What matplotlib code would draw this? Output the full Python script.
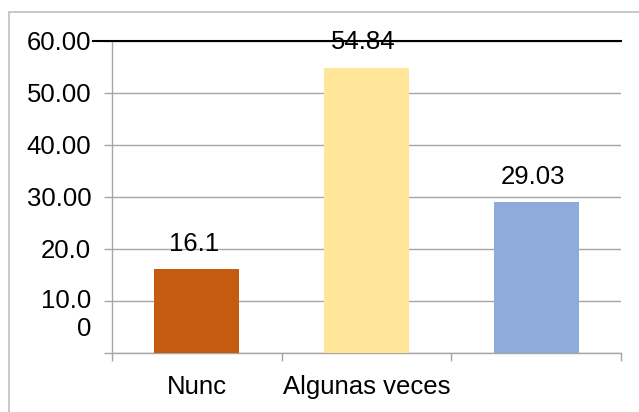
import matplotlib
matplotlib.use("Agg")
import matplotlib.pyplot as plt
from matplotlib.patches import Rectangle

plt.rcParams['font.family'] = ['Liberation Sans', 'DejaVu Sans']

categorias = ["Nunc", "Algunas veces", ""]
valores = [16.1, 54.84, 29.03]
etiquetas = ["16.1", "54.84", "29.03"]
colores = ["#C55A11", "#FFE699", "#8FAADC"]
yticks = [0, 10, 20, 30, 40, 50, 60]
ytick_labels = ["", "10.0\n0", "20.0", "30.00", "40.00", "50.00", "60.00"]

fig = plt.figure(figsize=(6.39, 4.12), dpi=100)
ax = fig.add_axes([112 / 639, 59.3 / 412, 509 / 639, 312 / 412])

x = range(len(valores))
bars = ax.bar(x, valores, width=0.5, color=colores, zorder=3)

for b, lab in zip(bars, etiquetas):
    ax.annotate(lab, (b.get_x() + b.get_width() / 2, b.get_height()),
                xytext=(-2, 13), textcoords="offset points",
                ha="center", va="baseline", fontsize=18.5, zorder=4)

ax.set_xlim(-0.5, 2.5)
ax.set_ylim(0, 60)
ax.set_yticks(yticks)
ax.set_yticklabels(ytick_labels, fontsize=18.5)
ax.set_xticks([0, 1, 2])
ax.set_xticklabels(categorias, fontsize=18.5)
ax.set_xticks([-0.5, 0.5, 1.5, 2.5], minor=True)

ax.tick_params(axis="y", length=6, width=1, color="#A6A6A6", pad=9)
ax.tick_params(axis="x", which="major", length=0, pad=16)
ax.tick_params(axis="x", which="minor", length=6, width=1, color="#A6A6A6")

ax.grid(axis="y", color="#A6A6A6", linewidth=1, zorder=0)
for s in ["top", "right"]:
    ax.spines[s].set_visible(False)
for s in ["left", "bottom"]:
    ax.spines[s].set_color("#A6A6A6")
    ax.spines[s].set_linewidth(1)

# linea negra superior
ax.axhline(60, xmin=-0.037, xmax=1.0, color="black", linewidth=1.5,
           clip_on=False, zorder=5)

# ajustar la etiqueta de dos lineas
for t in ax.get_yticklabels():
    if "\n" in t.get_text():
        t.set_verticalalignment("top")
        t.set_y(10)
        t.set_transform(t.get_transform() + matplotlib.transforms.ScaledTranslation(0, 12 / 100, fig.dpi_scale_trans))

# borde de la figura
fig.patches.append(Rectangle((9 / 639, -0.05), 1.0, (412 - 12) / 412 + 0.05,
                             transform=fig.transFigure, fill=False,
                             edgecolor="#BFBFBF", linewidth=1.2))

fig.savefig("out.png", dpi=100)
